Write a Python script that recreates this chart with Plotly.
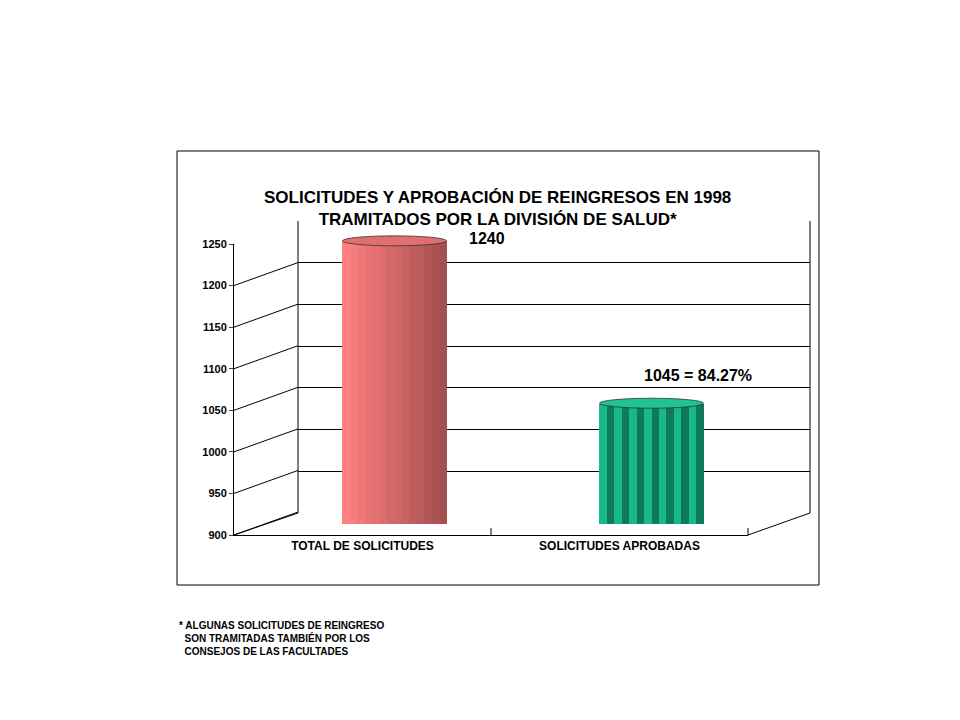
import plotly.graph_objects as go

categories = ["TOTAL DE SOLICITUDES", "SOLICITUDES APROBADAS"]
values = [1240, 1045]
value_labels = ["1240", "1045 = 84.27%"]
y_ticks = [900, 950, 1000, 1050, 1100, 1150, 1200, 1250]

W, H = 960, 720
def px(x): return x / W
def py(y): return 1 - y / H

FONT = "Liberation Sans, Arial, sans-serif"
fig = go.Figure()

# bars (middle depth plane, xaxis3/yaxis3), drawn as vertical slices for a cylinder look
n = 14
bw = 0.405
red_a, red_b = (255, 128, 128), (165, 80, 80)
for i, (cat, v) in enumerate(zip(categories, values)):
    c = i + 0.5
    for k in range(n):
        t = k / (n - 1)
        if i == 0:
            col = tuple(int(red_a[j] + (red_b[j] - red_a[j]) * t) for j in range(3))
            col = "rgb(%d,%d,%d)" % col
        else:
            col = "#18B888" if k % 2 == 0 else "#0E7A5A"
        fig.add_trace(go.Bar(x=[c - bw / 2 + (k + 0.5) * bw / n], y=[v - 900], base=900,
                             width=bw / n, marker=dict(color=col, line=dict(width=0)),
                             xaxis="x3", yaxis="y3", showlegend=False, hoverinfo="skip"))
    cap = "#E07070" if i == 0 else "#1FC394"
    fig.add_shape(type="circle", xref="x3", yref="y3", x0=c - bw / 2, x1=c + bw / 2,
                  y0=v - 6, y1=v + 6, fillcolor=cap, line=dict(color="#333", width=0.8))

# invisible traces to activate front and back axes
fig.add_trace(go.Scatter(x=[0], y=[900], mode="markers", marker=dict(opacity=0),
                         showlegend=False, hoverinfo="skip"))
fig.add_trace(go.Scatter(x=[0], y=[900], mode="markers", marker=dict(opacity=0),
                         xaxis="x2", yaxis="y2", showlegend=False, hoverinfo="skip"))

rng = [900, 1250]
fig.update_layout(
    width=W, height=H, margin=dict(l=0, r=0, t=0, b=0, autoexpand=False),
    paper_bgcolor="white", plot_bgcolor="rgba(0,0,0,0)",
    font=dict(family=FONT, color="black", weight="bold"),
    barmode="overlay", bargap=0,
    xaxis=dict(domain=[px(226), px(740)], range=[0, 2], tickvals=[0.5, 1.5], anchor="y",
               ticktext=categories, showgrid=False, showline=True, linecolor="black",
               zeroline=False, ticks="", tickfont=dict(size=12, family=FONT)),
    yaxis=dict(domain=[py(527), py(236)], range=rng, anchor="x", tickvals=y_ticks, showgrid=False,
               showline=True, linecolor="black", ticks="outside", ticklen=4,
               tickfont=dict(size=11, family=FONT), zeroline=False),
    xaxis2=dict(domain=[px(290), px(802)], range=[0, 2], anchor="y2", visible=False),
    yaxis2=dict(domain=[py(505), py(213)], range=rng, anchor="x2",
                tickvals=y_ticks, showgrid=True, gridcolor="black", gridwidth=1,
                showticklabels=False, zeroline=False, showline=False, ticks=""),
    xaxis3=dict(domain=[px(258), px(772)], range=[0, 2], anchor="y3", visible=False),
    yaxis3=dict(domain=[py(516), py(224.5)], range=rng, anchor="x3", visible=False),
)

line = dict(color="black", width=1)
shapes = [
    dict(type="rect", xref="paper", yref="paper", x0=px(169), x1=px(811), y0=py(577), y1=py(143),
         line=line),
    dict(type="line", xref="paper", yref="paper", x0=px(290), x1=px(290), y0=py(505), y1=py(213), line=line),
    dict(type="line", xref="paper", yref="paper", x0=px(226), x1=px(290), y0=py(527), y1=py(505), line=line),
    dict(type="line", xref="paper", yref="paper", x0=px(740), x1=px(802), y0=py(527), y1=py(505), line=line),
    dict(type="line", xref="paper", yref="paper", x0=px(802), x1=px(802), y0=py(505), y1=py(213), line=line),
    dict(type="line", xref="paper", yref="paper", x0=px(483), x1=px(483), y0=py(527), y1=py(520), line=line),
    dict(type="line", xref="paper", yref="paper", x0=px(740), x1=px(740), y0=py(527), y1=py(520), line=line),
]
shift = 23 / 291 * 350
for v in y_ticks:
    shapes.append(dict(type="line", xref="paper", yref="y", x0=px(226), x1=px(290),
                       y0=v, y1=v + shift, line=line))
for s in shapes:
    fig.add_shape(**s, layer="below")

fig.add_annotation(x=px(490), y=py(178), xref="paper", yref="paper", showarrow=False,
                   text="SOLICITUDES Y APROBACIÓN DE REINGRESOS EN 1998<br>TRAMITADOS POR LA DIVISIÓN DE SALUD*",
                   font=dict(size=17, family=FONT), align="center")
fig.add_annotation(x=0.5 + 0.36, y=values[0], xref="x3", yref="y3", showarrow=False,
                   text=value_labels[0], font=dict(size=16), yshift=2)
fig.add_annotation(x=1.5 + 0.18, y=values[1], xref="x3", yref="y3", showarrow=False,
                   text=value_labels[1], font=dict(size=16), yshift=28)
fig.add_annotation(x=px(169), y=py(630), xref="paper", yref="paper", showarrow=False,
                   xanchor="left", yanchor="middle", align="left",
                   text="* ALGUNAS SOLICITUDES DE REINGRESO<br>  SON TRAMITADAS TAMBIÉN POR LOS<br>  CONSEJOS DE LAS FACULTADES",
                   font=dict(size=10, family=FONT))

fig.write_html("out.html")
